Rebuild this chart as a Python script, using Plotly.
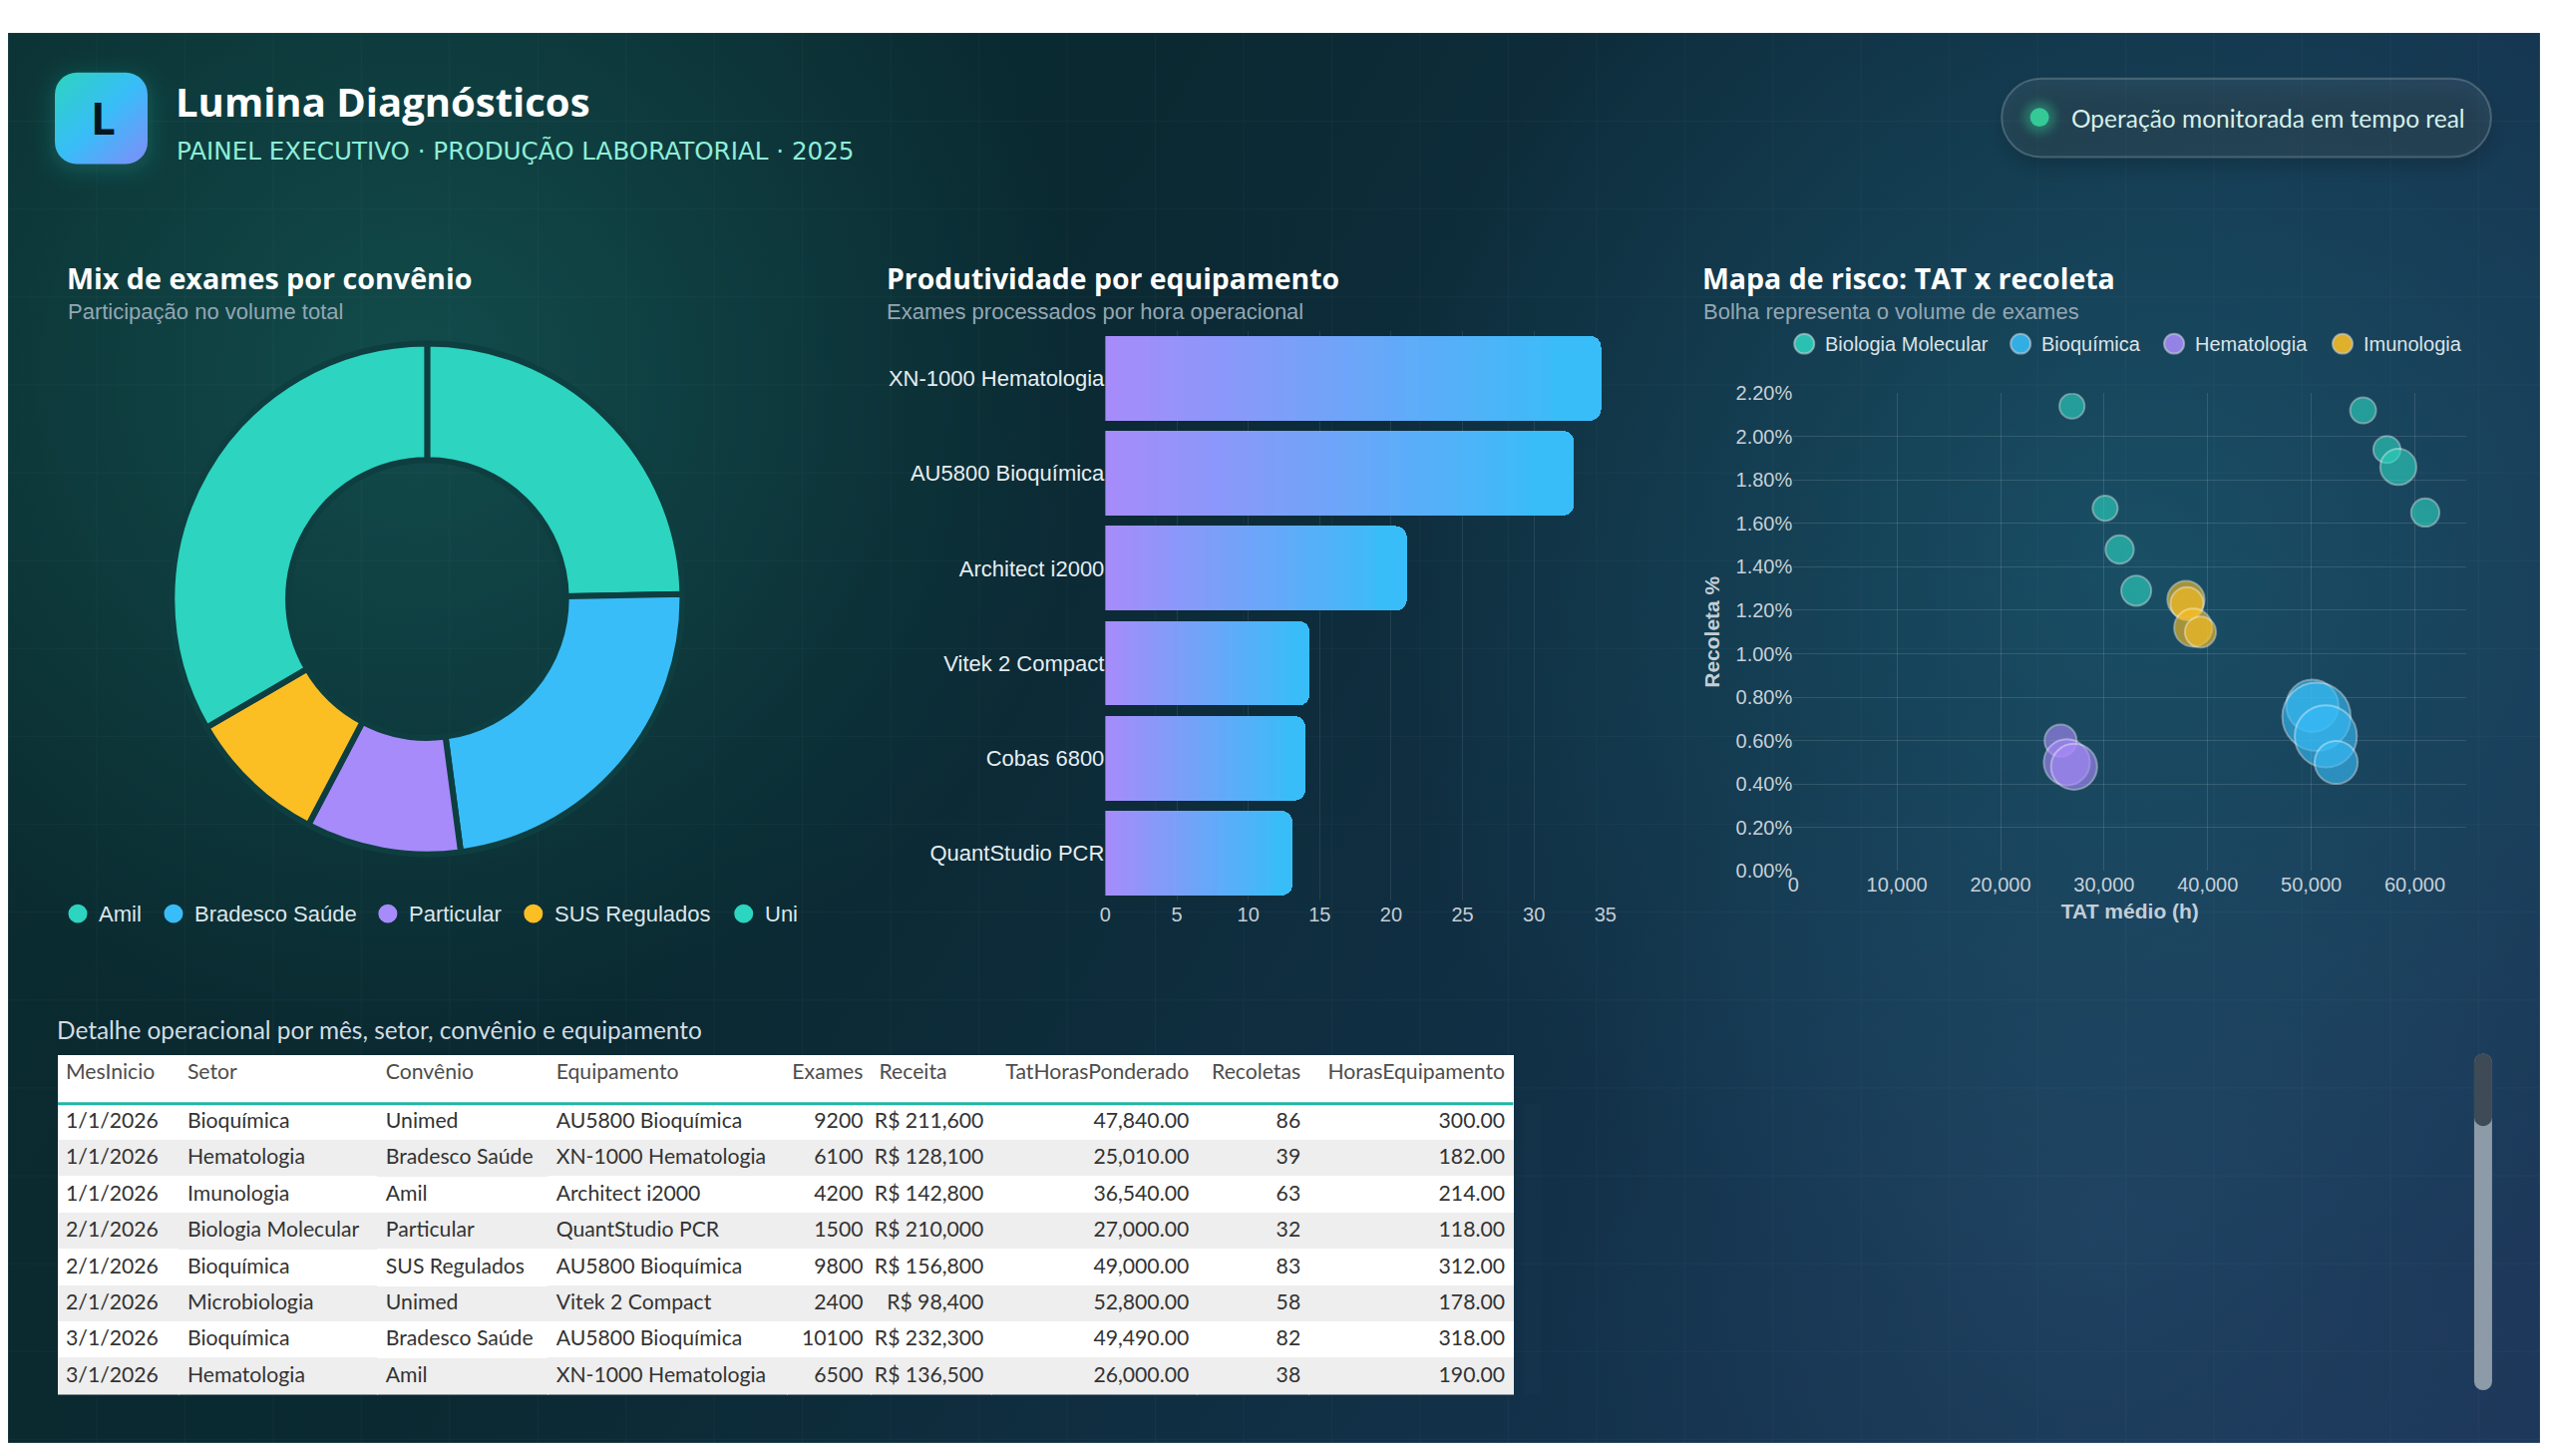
import base64
import plotly.graph_objects as go

W, H = 2560, 1460
# the page is photographed with an 8px body margin and a slight overall scale;
# layout positions below are written in photographed-pixel units and mapped here
SX, SY, OFF = 0.9938, 0.9892, 8.0


def fx(sx):
    return sx / SX - OFF


def fy(sy):
    return sy / SY - OFF


def X(sx):
    return fx(sx) / W


def Y(sy):
    return 1 - fy(sy) / H


# ---------------- data ----------------
convenios = ["Amil", "Bradesco Saúde", "Particular", "SUS Regulados", "Uni"]
conv_share = [24.7, 23.2, 9.8, 8.9, 33.4]
conv_colors = ["#2dd4bf", "#38bdf8", "#a78bfa", "#fbbf24", "#2dd4bf"]

equipamentos = ["XN-1000 Hematologia", "AU5800 Bioquímica", "Architect i2000",
                "Vitek 2 Compact", "Cobas 6800", "QuantStudio PCR"]
exames_por_hora = [34.7, 32.8, 21.1, 14.3, 14.0, 13.1]
bar_ticks = [0, 5, 10, 15, 20, 25, 30, 35]

setores = ["Biologia Molecular", "Bioquímica", "Hematologia", "Imunologia"]
setor_colors = ["rgba(45,212,191,0.88)", "rgba(56,189,248,0.88)",
                "rgba(167,139,250,0.88)", "rgba(251,191,36,0.88)"]
bm_tat = [26900, 30100, 31500, 33100, 55000, 57300, 58400, 61000]
bm_recoleta = [2.14, 1.67, 1.48, 1.29, 2.12, 1.94, 1.86, 1.65]
bm_volume = [1500, 1500, 1900, 2150, 1600, 1750, 3100, 1900]
bq_tat = [50100, 50500, 51400, 52400]
bq_recoleta = [0.76, 0.71, 0.62, 0.50]
bq_volume = [6500, 11100, 9200, 4400]
he_tat = [25800, 26400, 27100]
he_recoleta = [0.60, 0.50, 0.48]
he_volume = [2450, 5050, 5050]
im_tat = [37900, 38000, 38600, 39300]
im_recoleta = [1.25, 1.23, 1.12, 1.10]
im_volume = [3300, 2600, 3450, 2300]
scatter_xticks = [0, 10000, 20000, 30000, 40000, 50000, 60000]
scatter_yticks = [0, 0.002, 0.004, 0.006, 0.008, 0.010, 0.012, 0.014, 0.016, 0.018, 0.020, 0.022]

tab_cols = ["MesInicio", "Setor", "Convênio", "Equipamento", "Exames", "Receita",
            "TatHorasPonderado", "Recoletas", "HorasEquipamento"]
tab_mes = ["1/1/2026", "1/1/2026", "1/1/2026", "2/1/2026", "2/1/2026", "2/1/2026", "3/1/2026", "3/1/2026"]
tab_setor = ["Bioquímica", "Hematologia", "Imunologia", "Biologia Molecular", "Bioquímica",
             "Microbiologia", "Bioquímica", "Hematologia"]
tab_conv = ["Unimed", "Bradesco Saúde", "Amil", "Particular", "SUS Regulados", "Unimed",
            "Bradesco Saúde", "Amil"]
tab_equip = ["AU5800 Bioquímica", "XN-1000 Hematologia", "Architect i2000", "QuantStudio PCR",
             "AU5800 Bioquímica", "Vitek 2 Compact", "AU5800 Bioquímica", "XN-1000 Hematologia"]
tab_exames = [9200, 6100, 4200, 1500, 9800, 2400, 10100, 6500]
tab_receita = [211600, 128100, 142800, 210000, 156800, 98400, 232300, 136500]
tab_tat = [47840, 25010, 36540, 27000, 49000, 52800, 49490, 26000]
tab_recoletas = [86, 39, 63, 32, 83, 58, 82, 38]
tab_horas = [300, 182, 214, 118, 312, 178, 318, 190]

# ---------------- background (decoration) ----------------
svg = f'''<svg xmlns="http://www.w3.org/2000/svg" width="{W}" height="{H}" viewBox="0 0 {W} {H}" preserveAspectRatio="none">
<defs>
<linearGradient id="base" gradientUnits="userSpaceOnUse" x1="10" y1="30" x2="2550" y2="1450">
<stop offset="0" stop-color="#0a2c2f"/><stop offset="0.35" stop-color="#0a2931"/>
<stop offset="0.7" stop-color="#13314a"/><stop offset="1" stop-color="#1d3659"/></linearGradient>
<radialGradient id="g1" gradientUnits="userSpaceOnUse" cx="420" cy="380" r="680">
<stop offset="0" stop-color="rgb(24,100,95)" stop-opacity="0.58"/><stop offset="1" stop-color="rgb(24,100,95)" stop-opacity="0"/></radialGradient>
<radialGradient id="g2" gradientUnits="userSpaceOnUse" cx="2150" cy="560" r="780">
<stop offset="0" stop-color="rgb(28,96,115)" stop-opacity="0.62"/><stop offset="1" stop-color="rgb(28,96,115)" stop-opacity="0"/></radialGradient>
<radialGradient id="g3" gradientUnits="userSpaceOnUse" cx="2100" cy="1250" r="560">
<stop offset="0" stop-color="rgb(45,90,125)" stop-opacity="0.35"/><stop offset="1" stop-color="rgb(45,90,125)" stop-opacity="0"/></radialGradient>
<pattern id="grid" patternUnits="userSpaceOnUse" x="10" y="30" width="88.5" height="88.5">
<path d="M 88.5 0 L 0 0 0 88.5" fill="none" stroke="rgba(255,255,255,0.035)" stroke-width="1.5"/></pattern>
<linearGradient id="logo" x1="0" y1="0" x2="1" y2="1">
<stop offset="0" stop-color="#2dd4bf"/><stop offset="0.5" stop-color="#38bdf8"/><stop offset="1" stop-color="#818cf8"/></linearGradient>
<filter id="blur" x="-50%" y="-50%" width="200%" height="200%"><feGaussianBlur stdDeviation="10"/></filter>
<filter id="blur2" x="-50%" y="-50%" width="200%" height="200%"><feGaussianBlur stdDeviation="5"/></filter>
</defs>
<rect x="0" y="0" width="{W}" height="{H}" fill="#ffffff"/>
<g transform="translate({-OFF} {-OFF}) scale({1 / SX} {1 / SY})">
<rect x="10" y="30" width="2540" height="1420" fill="url(#base)"/>
<rect x="10" y="30" width="2540" height="1420" fill="url(#g1)"/>
<rect x="10" y="30" width="2540" height="1420" fill="url(#g2)"/>
<rect x="10" y="30" width="2540" height="1420" fill="url(#g3)"/>
<rect x="10" y="30" width="2540" height="1420" fill="url(#grid)"/>
<rect x="52" y="70" width="103" height="100" rx="24" fill="rgba(45,212,191,0.18)" filter="url(#blur)"/>
<rect x="57" y="70" width="93" height="92" rx="22" fill="url(#logo)"/>
<rect x="2012" y="86" width="491" height="79" rx="39.5" fill="rgba(0,0,0,0.18)" filter="url(#blur)"/>
<rect x="2010" y="76" width="491" height="79" rx="39.5" fill="rgba(255,255,255,0.075)" stroke="rgba(255,255,255,0.2)" stroke-width="2"/>
<circle cx="2048" cy="115" r="16" fill="rgba(52,211,153,0.35)" filter="url(#blur2)"/>
<circle cx="2048" cy="115" r="9.5" fill="#34c996"/>
<rect x="2484" y="1058" width="18" height="339" rx="9" fill="#8d9aa8"/>
<rect x="2484" y="1058" width="18" height="73" rx="9" fill="#3e4b57"/>
</g>
</svg>'''
bg_src = "data:image/svg+xml;base64," + base64.b64encode(svg.encode("utf-8")).decode("ascii")

fig = go.Figure()

# ---------------- donut ----------------
pcx, pcy, pr = fx(430.5), fy(600), 260
fig.add_trace(go.Pie(
    labels=convenios, values=conv_share, sort=False, direction="clockwise", rotation=0,
    hole=0.544, marker=dict(colors=conv_colors, line=dict(color="#0e3e40", width=6)),
    textinfo="none", hoverinfo="skip", showlegend=False,
    domain=dict(x=[(pcx - pr) / W, (pcx + pr) / W], y=[1 - (pcy + pr) / H, 1 - (pcy - pr) / H]),
))

# ---------------- gradient bars (stacked colour steps) ----------------
c0 = (167, 139, 250)
c1 = (56, 189, 248)
n_fine = 40
fine_part = 0.9
for k in range(n_fine + 1):
    if k < n_fine:
        frac = fine_part / n_fine
        t = (k + 0.5) / n_fine * fine_part / 0.95
    else:
        frac = 1 - fine_part
        t = 1.0
    t = min(t, 1.0)
    col = "rgb({},{},{})".format(*[round(a + (b - a) * t) for a, b in zip(c0, c1)])
    fig.add_trace(go.Bar(
        x=[v * frac for v in exames_por_hora], y=equipamentos, orientation="h",
        marker=dict(color=col, line=dict(width=0)), width=0.89,
        hoverinfo="skip", showlegend=False, xaxis="x", yaxis="y",
    ))

# ---------------- bubbles ----------------
k_diam = 0.646 / SX
sizeref = 2 / k_diam ** 2
for name, xs, ys, vs, col in zip(
        setores, [bm_tat, bq_tat, he_tat, im_tat],
        [bm_recoleta, bq_recoleta, he_recoleta, im_recoleta],
        [bm_volume, bq_volume, he_volume, im_volume], setor_colors):
    fig.add_trace(go.Scatter(
        x=xs, y=[v / 100 for v in ys], mode="markers", name=name,
        marker=dict(size=vs, sizemode="area", sizeref=sizeref, color=col,
                    line=dict(color="rgba(255,255,255,0.55)", width=2)),
        hoverinfo="skip", showlegend=False, xaxis="x2", yaxis="y2",
    ))

# ---------------- table ----------------
TAB_TOP = 1060
col_edges = [60, 182, 381, 552, 792, 876, 997, 1203, 1315, 1520]
row_fill = ["#ffffff" if i % 2 == 0 else "#eeeeee" for i in range(len(tab_mes))]
fig.add_trace(go.Table(
    domain=dict(x=[X(60), X(1520)], y=[Y(TAB_TOP + 342), Y(TAB_TOP)]),
    columnwidth=[b - a for a, b in zip(col_edges[:-1], col_edges[1:])],
    header=dict(values=tab_cols, height=48 / SY, fill=dict(color="#ffffff"),
                line=dict(width=1, color="#ffffff"),
                align=["left", "left", "left", "left", "right", "left", "right", "right", "right"],
                font=dict(family="Lato, Open Sans, sans-serif", size=21.2, color="#4d4d4d")),
    cells=dict(values=[tab_mes, tab_setor, tab_conv, tab_equip, tab_exames, tab_receita,
                       tab_tat, tab_recoletas, tab_horas],
               format=["", "", "", "", "d", ",d", ",.2f", "d", ".2f"],
               prefix=["", "", "", "", "", "R$ ", "", "", ""],
               height=36 / SY, fill=dict(color=[row_fill] * 9),
               line=dict(width=1, color=[row_fill] * 9),
               align=["left", "left", "left", "left", "right", "right", "right", "right", "right"],
               font=dict(family="Lato, Open Sans, sans-serif", size=21.2, color="#333333")),
))

# ---------------- annotations ----------------
ann = []


def text(x, y, s, size, color, family, weight=400, xanchor="left", yanchor="middle"):
    ann.append(dict(x=X(x), y=Y(y), xref="paper", yref="paper", text=s, showarrow=False,
                    xanchor=xanchor, yanchor=yanchor,
                    font=dict(size=size, color=color, family=family, weight=weight)))


BOLD = "Open Sans, Noto Sans, sans-serif"
ARIAL = "Liberation Sans, Arial, sans-serif"
text(105, 115, "L", 44, "#06161b", BOLD, 700, xanchor="center")
text(176, 99, "Lumina Diagnósticos", 40, "#ffffff", BOLD, 700)
text(177, 149, "PAINEL EXECUTIVO · PRODUÇÃO LABORATORIAL · 2025", 24.6, "#8eeed8", "DejaVu Sans")
text(2078, 116, "Operação monitorada em tempo real", 24.5, "#d6efea", "Lato, sans-serif")

text(67, 277, "Mix de exames por convênio", 28.7, "#ffffff", BOLD, 700)
text(68, 311, "Participação no volume total", 22, "#93a7b3", ARIAL)
text(889, 277, "Produtividade por equipamento", 28.4, "#ffffff", BOLD, 700)
text(889, 311, "Exames processados por hora operacional", 22, "#93a7b3", ARIAL)
text(1708, 277, "Mapa de risco: TAT x recoleta", 28.5, "#ffffff", BOLD, 700)
text(1709, 311, "Bolha representa o volume de exames", 22, "#93a7b3", ARIAL)

text(57, 1034, "Detalhe operacional por mês, setor, convênio e equipamento", 24.4, "#d2dde3",
     "Lato, Open Sans, sans-serif")

shapes = []
# donut legend
donut_leg_x = [80, 176, 391, 537, 748]
for cx, lab, col in zip(donut_leg_x, convenios, conv_colors):
    shapes.append(dict(type="circle", xref="paper", yref="paper",
                       x0=X(cx - 9.5), x1=X(cx + 9.5), y0=Y(917 + 9.5), y1=Y(917 - 9.5),
                       fillcolor=col, line=dict(width=0)))
    text(cx + 19, 917, lab, 22, "#dde6eb", ARIAL)
# scatter legend
sc_leg_x = [1812, 2029, 2183, 2352]
for cx, lab, col in zip(sc_leg_x, setores, setor_colors):
    shapes.append(dict(type="circle", xref="paper", yref="paper",
                       x0=X(cx - 10), x1=X(cx + 10), y0=Y(343 + 10), y1=Y(343 - 10),
                       fillcolor=col, line=dict(width=2, color="rgba(200,210,215,0.6)")))
    text(cx + 19, 343, lab, 20, "#dbe3e8", ARIAL)
# table header underline
shapes.append(dict(type="line", xref="paper", yref="paper", x0=X(60), x1=X(1520),
                   y0=Y(TAB_TOP + 48.5), y1=Y(TAB_TOP + 48.5), line=dict(color="#1fb5a8", width=3),
                   layer="above"))

fig.update_layout(
    width=W, height=H, margin=dict(l=0, r=0, t=0, b=0),
    paper_bgcolor="#ffffff", plot_bgcolor="rgba(0,0,0,0)",
    barmode="stack", barcornerradius=11, bargap=0.11,
    images=[dict(source=bg_src, xref="paper", yref="paper", x=0, y=1, sizex=1, sizey=1,
                 xanchor="left", yanchor="top", sizing="stretch", layer="below")],
    annotations=ann, shapes=shapes,
    xaxis=dict(domain=[X(1110.8), X(1612.5)], range=[0, 35], tickvals=bar_ticks,
               showgrid=True, gridcolor="rgba(255,255,255,0.09)", gridwidth=1, zeroline=False,
               showline=False, ticks="", tickfont=dict(family=ARIAL, size=20, color="#c3cdd5"),
               anchor="y", fixedrange=True),
    yaxis=dict(domain=[Y(904), Y(330)], autorange="reversed", type="category",
               showgrid=False, zeroline=False, ticks="", showline=False,
               tickfont=dict(family=ARIAL, size=22, color="#e6edf1"), anchor="x", fixedrange=True),
    xaxis2=dict(domain=[X(1801), X(2476.5)], range=[0, 65000], tickvals=scatter_xticks,
                tickformat=",d", showgrid=True, gridcolor="rgba(255,255,255,0.12)", zeroline=False,
                showline=False, ticks="", tickfont=dict(family=ARIAL, size=20, color="#c6d0d8"),
                title=dict(text="TAT médio (h)", standoff=8,
                           font=dict(family=ARIAL, size=21, color="#c3ced6", weight=700)),
                anchor="y2"),
    yaxis2=dict(domain=[Y(874), Y(392.7)], range=[0, 0.022], tickvals=scatter_yticks,
                tickformat=".2%", showgrid=True, gridcolor="rgba(255,255,255,0.12)", zeroline=False,
                showline=False, ticks="", tickfont=dict(family=ARIAL, size=20, color="#c6d0d8"),
                title=dict(text="Recoleta %", standoff=10,
                           font=dict(family=ARIAL, size=21, color="#c3ced6", weight=700)),
                anchor="x2"),
)

fig.write_html("out.html")
